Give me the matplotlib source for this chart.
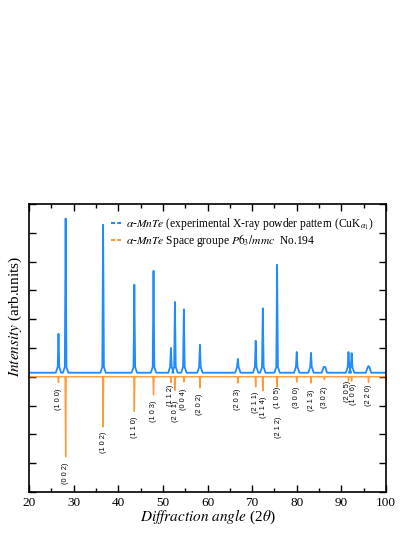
import matplotlib
matplotlib.use('Agg')
import matplotlib.pyplot as plt
from matplotlib.ticker import MultipleLocator, NullFormatter
import numpy as np

plt.rcParams['font.family'] = ['Liberation Serif', 'DejaVu Serif']
plt.rcParams['mathtext.fontset'] = 'stix'

# experimental pattern: peak positions (2theta) and heights
exp_pos = [26.6, 28.2, 36.6, 43.6, 47.9, 51.8, 52.7, 54.7, 58.3, 66.8,
           70.8, 72.4, 75.6, 80.0, 83.2, 86.2, 91.6, 92.3, 96.1]
exp_int = [1.49, 5.5, 5.28, 3.2, 3.68, 1.0, 2.6, 2.34, 1.11, 0.62,
           1.25, 2.38, 3.89, 0.86, 0.83, 0.34, 0.86, 0.82, 0.37]
exp_base = 0.14

# reference (P6_3/mmc) sticks
ref_pos = [26.6, 28.2, 36.6, 43.6, 47.9, 51.8, 52.7, 54.7, 58.3, 66.8,
           70.8, 72.4, 75.6, 80.0, 83.2, 86.2, 91.6, 92.3, 96.1]
ref_int = [-0.2, -2.78, -1.74, -1.2, -0.63, -0.2, -0.47, -0.18, -0.39, -0.22,
           -0.35, -0.49, -0.35, -0.18, -0.22, -0.1, -0.15, -0.15, -0.2]

hkl = ['(1 0 0)', '(0 0 2)', '(1 0 2)', '(1 1 0)', '(1 0 3)', '(1 1 2)',
       '(2 0 1)', '(0 0 4)', '(2 0 2)', '(2 0 3)', '(2 1 1)', '(1 1 4)',
       '(1 0 5)', '(2 1 2)', '(3 0 0)', '(2 1 3)', '(3 0 2)', '(2 0 5)',
       '(1 0 6)', '(2 2 0)']
hkl_x = [26.5, 28.2, 36.6, 43.6, 47.9, 51.7, 52.9, 54.7, 58.3, 66.8,
         70.7, 72.5, 75.6, 75.9, 80.0, 83.2, 86.2, 91.4, 92.8, 96.1]
hkl_y = [-0.78, -3.37, -2.29, -1.74, -1.2, -0.66, -1.2, -0.77, -0.94, -0.77,
         -0.9, -1.05, -0.73, -1.74, -0.7, -0.83, -0.7, -0.5, -0.6, -0.65]

blue = '#1e8cff'
orange = '#ff9a3a'

# build the experimental trace as narrow spikes on a flat background
xs = [20.0]
ys = [exp_base]
for p, h in zip(exp_pos, exp_int):
    xs += [p - 0.6, p - 0.18, p, p + 0.18, p + 0.6]
    ys += [exp_base, exp_base + 0.2, h, exp_base + 0.2, exp_base]
xs.append(100.0)
ys.append(exp_base)

# reference trace: zero line with downward sticks
rx = [20.0]
ry = [0.0]
for p, h in zip(ref_pos, ref_int):
    rx += [p - 0.12, p, p + 0.12]
    ry += [0.0, h, 0.0]
rx.append(100.0)
ry.append(0.0)

fig = plt.figure(figsize=(4.15, 5.37), dpi=100)
ax = fig.add_axes([0.070, 0.084, 0.860, 0.536])

ax.plot(rx, ry, color=orange, lw=1.0)
ax.plot(xs, ys, color=blue, lw=1.3)

for lab, x, y in zip(hkl, hkl_x, hkl_y):
    ax.text(x, y, lab, rotation=90, ha='center', va='center',
            fontsize=5.3, family='Liberation Sans')

# legend handles (short dashes)
h1, = ax.plot([], [], color=blue, lw=1.5, ls=(0, (2, 1)))
h2, = ax.plot([], [], color=orange, lw=1.5, ls=(0, (2, 1)))
ax.legend([h1, h2],
          [r'$\alpha$-$\mathit{MnTe}$ (experimental X-ray powder pattern (CuK$_{\alpha_1}$)',
           r'$\alpha$-$\mathit{MnTe}$ Space groupe $\mathit{P}6_3/\mathit{mmc}$  No.194'],
          loc='upper left', bbox_to_anchor=(0.2, 0.995), frameon=False,
          fontsize=8.3, handlelength=0.9, handletextpad=0.4, labelspacing=0.0)

ax.set_xlim(20, 100)
ax.set_ylim(-4, 6)
ax.xaxis.set_major_locator(MultipleLocator(10))
ax.xaxis.set_minor_locator(MultipleLocator(5))
ax.yaxis.set_major_locator(MultipleLocator(1))
ax.yaxis.set_major_formatter(NullFormatter())
ax.tick_params(which='both', direction='in', top=True, right=True, width=1.0)
ax.tick_params(which='major', length=5, labelsize=9.5)
ax.tick_params(which='minor', length=3)
for s in ax.spines.values():
    s.set_linewidth(1.2)

ax.set_xlabel(r'$\mathit{Diffraction\ angle}$ (2$\theta$)', fontsize=11, labelpad=-1)
ax.set_ylabel(r'$\mathit{Intensity}$ (arb.units)', fontsize=11)
ax.yaxis.set_label_coords(-0.014, 0.61)

fig.savefig('out.png', dpi=100)
